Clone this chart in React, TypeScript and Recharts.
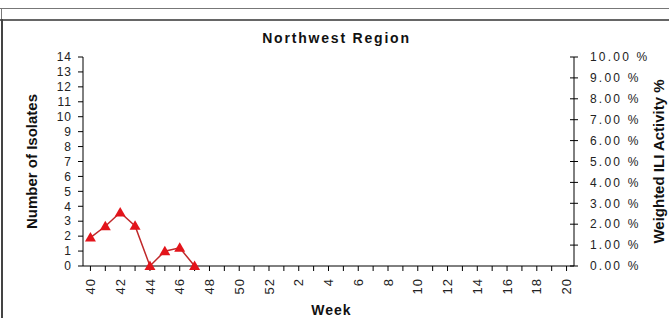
import { ComposedChart, Bar, Line, XAxis, YAxis } from 'recharts';

const weeks = [
  '40', '41', '42', '43', '44', '45', '46', '47', '48', '49', '50', '51', '52',
  '1', '2', '3', '4', '5', '6', '7', '8', '9', '10', '11', '12', '13', '14', '15', '16', '17', '18', '19', '20',
];
// weighted ILI activity in %, only weeks 40-47 reported
const iliPct: (number | null)[] = [1.36, 1.9, 2.56, 1.92, 0, 0.71, 0.87, 0];
// no isolates reported so far
const isolates: (number | null)[] = [0, 0, 0, 0, 0, 0, 0, 0];
const isolateTicks = [0, 1, 2, 3, 4, 5, 6, 7, 8, 9, 10, 11, 12, 13, 14];
const pctTicks = [0, 1, 2, 3, 4, 5, 6, 7, 8, 9, 10];

const data = weeks.map((w, i) => ({ week: w, ili: iliPct[i] ?? null, isolates: isolates[i] ?? null }));

const FONT = 'Arial, "Liberation Sans", sans-serif';
const NARROW = '"Liberation Sans Narrow", "Arial Narrow", "Liberation Sans", Arial, sans-serif';

function Triangle({ cx, cy, value }: any) {
  if (value == null || cx == null || cy == null) return null;
  return <path d={`M${cx},${cy - 5.5} L${cx + 5.5},${cy + 4} L${cx - 5.5},${cy + 4} Z`} fill="#e3141b" />;
}

function WeekTick({ x, y, payload, index }: any) {
  if (index % 2 !== 0) return null;
  return (
    <text
      x={x}
      y={y + 1}
      transform={`rotate(-90, ${x}, ${y + 1})`}
      textAnchor="end"
      dy="0.35em"
      fontSize={13}
      fontFamily={FONT}
      letterSpacing={1}
      fill="#222"
    >
      {payload.value}
    </text>
  );
}

function PctTick({ x, y, payload }: any) {
  // tick line crosses the axis: draw the inner half, recharts draws the outer half
  const axisX = x - 4 - 12;
  return (
    <g>
      <line x1={axisX - 4} x2={axisX} y1={y} y2={y} stroke="#000" />
      <text x={x} y={y} dy="0.35em" textAnchor="start" fontSize={12} fontFamily={FONT} letterSpacing={2.2} fill="#222">
        {`${payload.value.toFixed(2)} %`}
      </text>
    </g>
  );
}

export default function App() {
  return (
    <div style={{ position: 'absolute', left: 0, top: 0, width: 669, height: 318, background: '#fff', overflow: 'hidden' }}>
      <div style={{ position: 'absolute', left: 0, top: 8, width: 669, height: 1, background: '#777' }} />
      <div style={{ position: 'absolute', left: 1, top: 8, width: 1, height: 12, background: '#777' }} />
      <div style={{ position: 'absolute', left: 0, top: 19, width: 669, height: 2, background: '#666' }} />
      <div style={{ position: 'absolute', left: 1, top: 19, width: 2, height: 299, background: '#444' }} />
      <div
        style={{
          position: 'absolute', left: 0, width: 669, top: 30, textAlign: 'center',
          fontFamily: FONT, fontWeight: 'bold', fontSize: 14, letterSpacing: 1.8, color: '#111', paddingLeft: 2,
        }}
      >
        Northwest Region
      </div>
      <ComposedChart width={669} height={318} data={data} margin={{ top: 57, right: 0, bottom: 0, left: 0 }}>
        <XAxis
          dataKey="week"
          scale="band"
          interval={0}
          height={52}
          tick={WeekTick}
          tickSize={5}
          tickMargin={6}
          stroke="#000"
          label={{
            value: 'Week', position: 'insideBottom', offset: 3, dx: 3,
            style: { fontFamily: FONT, fontWeight: 'bold', fontSize: 14, fill: '#111', letterSpacing: 1 },
          }}
        />
        <YAxis
          yAxisId="left"
          orientation="left"
          type="number"
          width={83}
          domain={[0, 14]}
          ticks={isolateTicks}
          interval={0}
          tickSize={5}
          tickMargin={6}
          stroke="#000"
          tick={{ fontSize: 12, fontFamily: FONT, fill: '#222', letterSpacing: 1 }}
          label={{
            value: 'Number of Isolates', angle: -90, position: 'insideLeft', offset: 32,
            style: { textAnchor: 'middle', fontFamily: NARROW, fontWeight: 'bold', fontSize: 15, fill: '#111' },
          }}
        />
        <YAxis
          yAxisId="right"
          orientation="right"
          type="number"
          width={95}
          domain={[0, 10]}
          ticks={pctTicks}
          interval={0}
          tickSize={4}
          tickMargin={12}
          stroke="#000"
          tick={PctTick}
          label={{
            value: 'Weighted ILI Activity %', angle: -90, position: 'insideRight', offset: 10,
            style: { textAnchor: 'middle', fontFamily: NARROW, fontWeight: 'bold', fontSize: 15, fill: '#111' },
          }}
        />
        <Bar yAxisId="left" dataKey="isolates" fill="#3050a0" barSize={8} isAnimationActive={false} />
        <Line
          yAxisId="right"
          dataKey="ili"
          stroke="#c0282a"
          strokeWidth={1.5}
          dot={<Triangle />}
          activeDot={false}
          connectNulls={false}
          isAnimationActive={false}
        />
      </ComposedChart>
    </div>
  );
}
